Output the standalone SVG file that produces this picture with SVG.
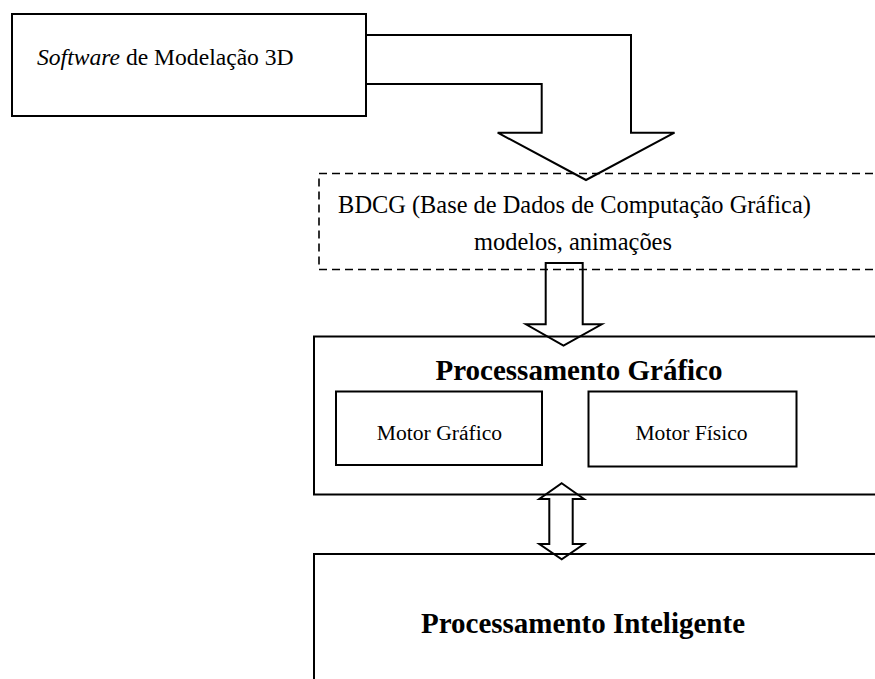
<svg xmlns="http://www.w3.org/2000/svg" width="875" height="679" viewBox="0 0 875 679">
  <style>
    .box { fill: #ffffff; stroke: #000000; stroke-width: 2; }
    .dash { fill: #ffffff; stroke: #000000; stroke-width: 1.6; stroke-dasharray: 8 5; }
    .arrow { fill: none; stroke: #000000; stroke-width: 2; stroke-linejoin: miter; }
    .txt { font-family: "Liberation Serif", "Times New Roman", serif; fill: #000000; }
    .reg { font-size: 24.4px; }
    .sub { font-size: 21.6px; }
    .ttl { font-size: 29px; font-weight: bold; }
  </style>
  <rect width="875" height="679" fill="#ffffff"/>

  <g id="software">
    <rect class="box" x="12" y="14" width="354" height="102"/>
    <text class="txt" x="37" y="65" font-size="23.6px"><tspan font-style="italic">Software</tspan> de Modelação 3D</text>
  </g>

  <g id="bdcg">
    <rect class="dash" x="319" y="173.5" width="580" height="96"/>
    <text class="txt reg" x="574.5" y="212.5" text-anchor="middle">BDCG (Base de Dados de Computação Gráfica)</text>
    <text class="txt reg" x="573" y="250" text-anchor="middle">modelos, animações</text>
  </g>

  <g id="processamento-grafico">
    <rect class="box" x="314" y="336.5" width="590" height="158"/>
    <text class="txt ttl" x="579" y="380" text-anchor="middle">Processamento Gráfico</text>
    <g id="motor-grafico">
      <rect class="box" x="336" y="391.5" width="206" height="73.5"/>
      <text class="txt sub" x="439.5" y="440" text-anchor="middle">Motor Gráfico</text>
    </g>
    <g id="motor-fisico">
      <rect class="box" x="588.5" y="391.5" width="208" height="75"/>
      <text class="txt sub" x="691.5" y="440" text-anchor="middle">Motor Físico</text>
    </g>
  </g>

  <g id="processamento-inteligente">
    <rect class="box" x="314" y="554" width="590" height="160"/>
    <text class="txt ttl" x="583" y="633" text-anchor="middle">Processamento Inteligente</text>
  </g>

  <g id="connectors">
    <!-- bent block arrow: modelling software into BDCG -->
    <path class="arrow" d="M366,35 H631 V132.7 H674.5 L586,180 L497.7,132.7 H541.7 V84 H366"/>
    <!-- block arrow: BDCG into graphics processing -->
    <path class="arrow" d="M545.7,263 H582.7 V324.3 H601.7 L563.5,345.7 L526,324.3 H545.7 Z"/>
    <!-- double block arrow between graphics and intelligent processing -->
    <path class="arrow" d="M561.7,483.3 L584,499 H572.7 V544 H584 L561.7,559.3 L539.3,544 H549.3 V499 H539.3 Z"/>
  </g>
</svg>
